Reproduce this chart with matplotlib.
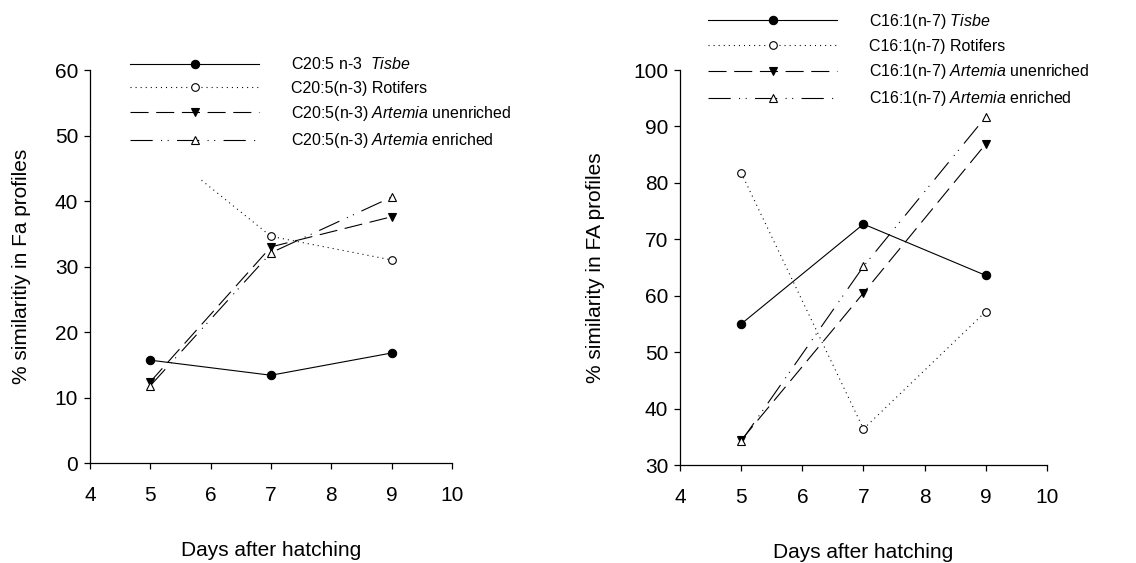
import matplotlib
matplotlib.use("Agg")
from matplotlib import pyplot as plt

plt.rcParams['font.family'] = ['Liberation Sans', 'DejaVu Sans']
plt.rcParams['mathtext.fontset'] = 'custom'
plt.rcParams['mathtext.rm'] = 'Liberation Sans'
plt.rcParams['mathtext.it'] = 'Liberation Sans:italic'
plt.rcParams['lines.scale_dashes'] = False

# Days after hatching
days = [5, 7, 9]

# Left panel: C20:5(n-3)
epa_tisbe = [15.7, 13.4, 16.8]
epa_rotifers = [49.5, 34.6, 31.0]
epa_art_unenr = [12.4, 33.0, 37.6]
epa_art_enr = [11.8, 32.1, 40.6]
epa_labels = ['C20:5 n-3  $\\it{Tisbe}$',
              'C20:5(n-3) Rotifers',
              'C20:5(n-3) $\\it{Artemia}$ unenriched',
              'C20:5(n-3) $\\it{Artemia}$ enriched']

# Right panel: C16:1(n-7)
pal_tisbe = [55.0, 72.7, 63.6]
pal_rotifers = [81.8, 36.4, 57.2]
pal_art_unenr = [34.4, 60.5, 86.9]
pal_art_enr = [34.2, 65.2, 91.7]
pal_labels = ['C16:1(n-7) $\\it{Tisbe}$',
              'C16:1(n-7) Rotifers',
              'C16:1(n-7) $\\it{Artemia}$ unenriched',
              'C16:1(n-7) $\\it{Artemia}$ enriched']

xticks = [4, 5, 6, 7, 8, 9, 10]

# line styles for the four series
styles = [
    dict(ls='-', marker='o', mfc='black', ms=6),
    dict(ls=(0, (0.75, 2.9)), marker='o', mfc='white', ms=5.5),
    dict(ls=(0, (13, 5.5)), marker='v', mfc='black', ms=6),
    dict(ls=(0, (16, 6, 0.75, 4, 0.75, 6)), marker='^', mfc='white', ms=5.5),
]

fig = plt.figure(figsize=(11.36, 5.63), dpi=100)
ax1 = fig.add_axes([0.0792, 0.1776, 0.3187, 0.698])
ax2 = fig.add_axes([0.5986, 0.174, 0.323, 0.7016])


def draw(ax, series, labels):
    for y, lab, st in zip(series, labels, styles):
        ax.plot(days, y, color='black', lw=0.8, mec='black', mew=0.8,
                label=lab, clip_on=False, **st)
    ax.spines['top'].set_visible(False)
    ax.spines['right'].set_visible(False)
    for s in ('left', 'bottom'):
        ax.spines[s].set_linewidth(0.9)
    ax.set_xlim(4, 10)
    ax.set_xticks(xticks)
    ax.tick_params(axis='both', direction='out', length=4.5, width=0.9,
                   labelsize=15)
    ax.tick_params(axis='x', pad=12)
    ax.tick_params(axis='y', pad=4)
    ax.set_xlabel('Days after hatching', fontsize=15, labelpad=26)


draw(ax1, [epa_tisbe, epa_rotifers, epa_art_unenr, epa_art_enr], epa_labels)
ax1.set_ylim(0, 60)
ax1.set_yticks([0, 10, 20, 30, 40, 50, 60])
ax1.set_ylabel('% similaritiy in Fa profiles', fontsize=15, labelpad=17)

draw(ax2, [pal_tisbe, pal_rotifers, pal_art_unenr, pal_art_enr], pal_labels)
ax2.set_ylim(30, 100)
ax2.set_yticks([30, 40, 50, 60, 70, 80, 90, 100])
ax2.set_ylabel('% similarity in FA profiles', fontsize=15, labelpad=20)

leg_kw = dict(loc='center left', fontsize=11.5, handlelength=8.1,
              handletextpad=2.0, labelspacing=0.52, numpoints=1,
              borderaxespad=0, bbox_transform=fig.transFigure)
# left legend has a white box that hides the start of the rotifer line
leg1 = ax1.legend(bbox_to_anchor=(0.0898, 0.8165), borderpad=1.75,
                  frameon=True, fancybox=False, facecolor='white',
                  edgecolor='none', framealpha=1, **leg_kw)
leg2 = ax2.legend(bbox_to_anchor=(0.6232, 0.8935), borderpad=0,
                  frameon=False, **leg_kw)
leg1.set_zorder(10)

plt.savefig('out.png', dpi=100)
